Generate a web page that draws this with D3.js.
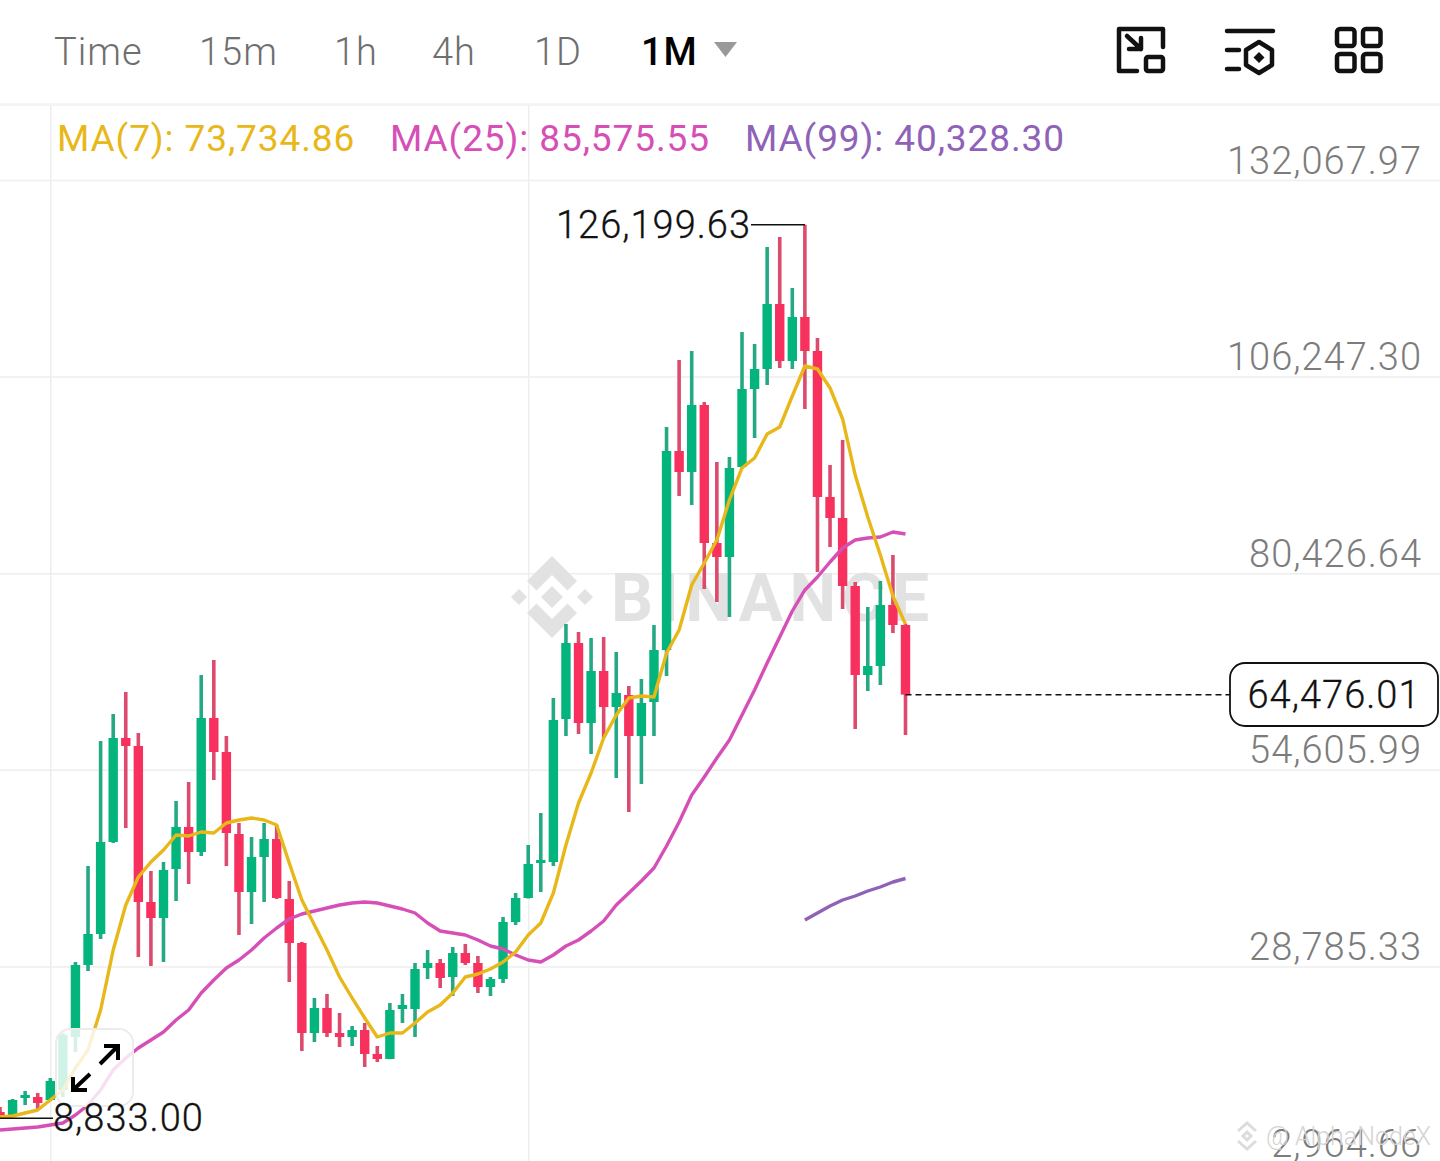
<!DOCTYPE html>
<meta charset="utf-8">
<style type="text/css">
html, body { margin: 0; padding: 0; background: #fff; }
svg { display: block; }
text { font-family: Roboto, sans-serif; }
.tick line { stroke: #eeeeee; stroke-width: 1.5; }
.tick text { fill: #7c7c7c; font-size: 38px; font-weight: 300; letter-spacing: 1px; }
.icon { fill: none; stroke: #111; stroke-width: 4.5; stroke-linecap: round; stroke-linejoin: round; }
.ma { fill: none; stroke-width: 3.4; stroke-linejoin: round; }
.price { font-size: 38px; font-weight: 300; fill: #111; stroke: #111; stroke-width: 0.3px; letter-spacing: 1px; }
</style>
<body>
</body>
<script src="https://d3js.org/d3.v7.min.js"></script>
<script>
// monthly candles
var opens = [9663,9269,11502,11633,11239,12553,19513,28970,33041,45124,58783,57732,37244,35142,41578,47094,43811,61410,56944,46175,38557,43154,45518,37638,31859,20039,23322,20039,19513,20433,17281,16624,23191,23191,28576,29232,27393,30546,29232,26080,27131,34617,37769,42366,42497,61278,71260,60753,67582,62854,64430,59045,63511,70340,96476,93718,102518,84393,82555,94375,104619,107246,115783,108296,114075,109610,90435,87677,78746,67057,68239,76250,73624];
var highs = [10320,11370,12421,12159,14129,20039,29364,41972,58389,61935,64824,59439,41315,42497,50509,53004,67057,69027,59045,47619,45781,47619,47357,40002,32000,24635,25161,22665,20958,21352,18331,23979,25161,29232,30940,29758,31334,31728,30152,27393,35274,38426,44730,48933,64036,73755,72704,71916,72048,70078,65612,66532,73624,99628,108428,109610,102912,95032,95688,112105,110529,123269,124582,117884,126199.63,111317,94638,97921,79271,75988,79403,82817,73800];
var lows = [8833,9138,10582,10057,11100,11633,17543,28182,32384,44993,46963,30020,28838,29364,37375,39608,43285,53267,41972,32910,34354,37244,37638,26737,17675,18857,19513,18200,18331,15573,16230,16600,21352,19513,27131,25949,24898,28970,25292,24898,26605,34223,37700,38557,41972,59045,59308,56681,58783,53529,49064,52741,59045,66926,90566,89384,78352,76645,74674,94300,98184,105144,107377,107246,101992,80585,83868,75725,59964,64956,65744,72573,59177];
var closes = [9006,11239,11896,10845,13735,19776,28970,33041,45124,58783,57732,37244,35142,41446,47094,43811,61410,56944,46306,38557,43154,45518,37769,31859,20039,23322,20039,19513,20433,17281,16624,23059,23716,28444,29232,27262,30546,29232,26080,27131,34617,37769,42234,42760,61147,71260,60753,67582,62854,64693,59045,63380,70340,96476,93718,102518,84393,82555,94244,104619,107246,115783,108296,114075,109610,90435,87677,78746,67057,68239,76250,73624,64476.01];

var ma7 = [9006,9138,9532,9926,11239,12553,15442,17806,23059,30940,36850,40527,42497,44073,46043,45912,46437,46306,47619,48013,48276,48013,47357,42366,37506,34223,30940,27393,24635,22009,19513,20039,20039,21352,22797,23716,25292,27393,27788,28444,29364,30677,32910,34486,38426,44730,50246,54186,58783,61804,64036,64299,64168,69946,72967,78877,81767,84787,90041,94244,95557,98709,99628,103700,107640,107246,104750,100679,93324,87808,82817,77433,73734.86];
var ma25 = [7299,7430,7562,7693,7956,8218,9269,10582,12553,15179,16755,18069,19119,20170,21746,23059,25292,26999,28576,29626,30940,32516,33829,35011,35668,36062,36456,36850,37112,37244,37112,36718,36324,35799,34486,33435,33172,32910,32253,31465,31071,30283,29626,29364,30283,31465,32253,33435,34748,36850,38426,40002,41709,44599,47751,51297,53661,56156,58520,61804,65087,68633,72048,75462,78221,79928,81898,83737,84787,85050,85181,85838,85575.55];
// MA(99) only shows up on the last candles
var ma99 = [34880,35799,36718,37506,38032,38688,39214,39870,40328.30];
var ma99Start = 64;

var priceTicks = [2964.66, 28785.33, 54605.99, 80426.64, 106247.30, 132067.97];
var tabs = ["Time", "15m", "1h", "4h", "1D", "1M"];
var tabX = [54, 199, 334, 432, 534, 641];
var maLabels = ["MA(7): 73,734.86", "MA(25): 85,575.55", "MA(99): 40,328.30"];
var maLabelX = [57, 390, 745];
var maColors = ["#e8b71a", "#d64fb6", "#8f62b8"];
var lastPrice = 64476.01, highPrice = 126199.63, lowPrice = 8833.00;

var width = 1440, height = 1161;
var upColor = "#03b57c", downColor = "#f8305d";
var upWick = "#25a985", downWick = "#dc4a6e";

var svg = d3.select("body").append("svg")
    .attr("width", width)
    .attr("height", height);

var xScale = d3.scaleLinear().domain([0, 72]).range([0, 905.5]);
var yScale = d3.scaleLinear().domain([2964.66, 132067.97]).range([1163, 180]);
var money = d3.format(",.2f");

// top header separator and the two vertical grid lines
svg.append("rect").attr("x", 0).attr("y", 103).attr("width", width).attr("height", 3).attr("fill", "#f4f4f4");
[4, 42].forEach(function(i) {
    svg.append("line")
        .attr("x1", xScale(i) + 0.5).attr("x2", xScale(i) + 0.5)
        .attr("y1", 105).attr("y2", height)
        .attr("stroke", "#eeeeee").attr("stroke-width", 1.5);
});

// price axis: long ticks act as the grid, labels pulled back to the right edge
var axis = svg.append("g")
    .attr("transform", "translate(" + width + ",0)")
    .call(d3.axisLeft(yScale).tickValues(priceTicks).tickFormat(money).tickSize(width));
axis.select(".domain").remove();
axis.selectAll(".tick text").attr("x", -18).attr("dy", -7);

// BINANCE watermark
var mark = svg.append("g").attr("transform", "translate(552,597)").attr("fill", "#e2e2e2");
mark.append("polygon").attr("points", "0,-41 25,-16 15.5,-6.5 0,-22 -15.5,-6.5 -25,-16");
mark.append("polygon").attr("points", "0,41 25,16 15.5,6.5 0,22 -15.5,6.5 -25,16");
mark.append("polygon").attr("points", "0,-11 11,0 0,11 -11,0");
mark.append("polygon").attr("points", "-33,-8 -25,0 -33,8 -41,0");
mark.append("polygon").attr("points", "33,-8 41,0 33,8 25,0");
svg.append("text")
    .attr("x", 611).attr("y", 621)
    .attr("fill", "#e2e2e2")
    .attr("font-size", 66).attr("font-weight", 700)
    .attr("textLength", 318).attr("lengthAdjust", "spacing")
    .text("BINANCE");

// candles
var idx = d3.range(opens.length);
function isUp(i) { return closes[i] >= opens[i]; }

svg.selectAll(".wick")
    .data(idx)
  .enter().append("line")
    .attr("class", "wick")
    .attr("x1", function(i) { return xScale(i); })
    .attr("x2", function(i) { return xScale(i); })
    .attr("y1", function(i) { return yScale(highs[i]); })
    .attr("y2", function(i) { return yScale(lows[i]); })
    .attr("stroke", function(i) { return isUp(i) ? upWick : downWick; })
    .attr("stroke-width", 3.6);

svg.selectAll(".body")
    .data(idx)
  .enter().append("rect")
    .attr("class", "body")
    .attr("x", function(i) { return xScale(i) - 4.7; })
    .attr("width", 9.4)
    .attr("y", function(i) { return yScale(Math.max(opens[i], closes[i])); })
    .attr("height", function(i) { return Math.max(2, Math.abs(yScale(opens[i]) - yScale(closes[i]))); })
    .attr("fill", function(i) { return isUp(i) ? upColor : downColor; });

// moving averages
var maLine = d3.line()
    .x(function(d) { return xScale(d.i); })
    .y(function(d) { return yScale(d.v); });

function addMa(values, start, col) {
    svg.append("path")
        .datum(values.map(function(v, k) { return {i: start + k, v: v}; }))
        .attr("class", "ma")
        .attr("stroke", col)
        .attr("d", maLine);
}
addMa(ma25, 0, maColors[1]);
addMa(ma99, ma99Start, maColors[2]);
addMa(ma7, 0, maColors[0]);

// tabs
svg.selectAll(".tab")
    .data(tabs)
  .enter().append("text")
    .attr("class", "tab")
    .attr("x", function(d, i) { return tabX[i]; })
    .attr("y", 65)
    .attr("font-size", 38)
    .attr("letter-spacing", 1)
    .attr("font-weight", function(d) { return d == "1M" ? 500 : 300; })
    .attr("fill", function(d) { return d == "1M" ? "#000" : "#6f6f6f"; })
    .text(function(d) { return d; });
svg.append("polygon").attr("points", "714,42 737,42 725.5,57").attr("fill", "#999");

// icons on the right of the header
var icons = svg.append("g").attr("class", "icon");
icons.append("path").attr("d", "M1163,47V29H1119V71H1137");
icons.append("rect").attr("x", 1146).attr("y", 57).attr("width", 17).attr("height", 14).attr("rx", 2);
icons.append("path").attr("d", "M1127,36L1141,49M1141,38V49H1129");
icons.append("path").attr("d", "M1227,31H1273M1227,50H1239M1227,69H1239");
icons.append("polygon").attr("points", "1259,42 1272,50 1272,65 1259,73 1246,65 1246,50");
svg.append("polygon").attr("points", "1259,52 1264.5,57.5 1259,63 1253.5,57.5").attr("fill", "#111");
[1337, 1363].forEach(function(x) {
    [29, 54].forEach(function(y) {
        icons.append("rect").attr("x", x).attr("y", y).attr("width", 17.5).attr("height", 17).attr("rx", 3);
    });
});

// MA legend
svg.selectAll(".malabel")
    .data(maLabels)
  .enter().append("text")
    .attr("class", "malabel")
    .attr("x", function(d, i) { return maLabelX[i]; })
    .attr("y", 151)
    .attr("font-size", 37)
    .attr("letter-spacing", 0.9)
    .attr("font-weight", 400)
    .attr("fill", function(d, i) { return maColors[i]; })
    .text(function(d) { return d; });

// high and low markers
svg.append("line")
    .attr("x1", 751).attr("x2", xScale(64))
    .attr("y1", yScale(highPrice)).attr("y2", yScale(highPrice))
    .attr("stroke", "#111").attr("stroke-width", 1.5);
svg.append("text")
    .attr("class", "price")
    .attr("x", 751).attr("y", yScale(highPrice) + 13)
    .attr("text-anchor", "end")
    .text(money(highPrice));

// expand button sits over the chart
svg.append("rect")
    .attr("x", 56).attr("y", 1029).attr("width", 77).attr("height", 77).attr("rx", 14)
    .attr("fill", "#fff").attr("fill-opacity", 0.82)
    .attr("stroke", "#ececec").attr("stroke-width", 2);
svg.append("path")
    .attr("d", "M73,1090L90,1074M73,1077V1090H87M118,1046L100,1064M104,1046H118V1060")
    .attr("fill", "none").attr("stroke", "#000").attr("stroke-width", 4);

svg.append("line")
    .attr("x1", xScale(0)).attr("x2", 53)
    .attr("y1", yScale(lowPrice)).attr("y2", yScale(lowPrice))
    .attr("stroke", "#111").attr("stroke-width", 1.5);
svg.append("text")
    .attr("class", "price")
    .attr("x", 53).attr("y", yScale(lowPrice) + 13)
    .text(money(lowPrice));

// last price line and its pill
svg.append("line")
    .attr("x1", xScale(72)).attr("x2", 1230)
    .attr("y1", yScale(lastPrice)).attr("y2", yScale(lastPrice))
    .attr("stroke", "#111").attr("stroke-width", 1.5).attr("stroke-dasharray", "6,4");
svg.append("rect")
    .attr("x", 1230).attr("y", 663).attr("width", 208).attr("height", 63).attr("rx", 15)
    .attr("fill", "#fff").attr("stroke", "#111").attr("stroke-width", 1.8);
svg.append("text")
    .attr("class", "price")
    .attr("x", 1334).attr("y", 708)
    .attr("text-anchor", "middle")
    .text(money(lastPrice));

// author watermark, bottom right
var wm = svg.append("g").attr("transform", "translate(1247,1136)").attr("fill", "none").attr("stroke", "#dcdcdc").attr("stroke-width", 3);
wm.append("path").attr("d", "M-9,-5L0,-13L9,-5M-9,5L0,13L9,5");
wm.append("path").attr("d", "M0,-4L4,0L0,4L-4,0Z");
svg.append("text")
    .attr("x", 1266).attr("y", 1145)
    .attr("font-size", 25).attr("fill", "#d4d4d4").attr("font-weight", 300)
    .text("@ AlphaNodeX");
</script>
